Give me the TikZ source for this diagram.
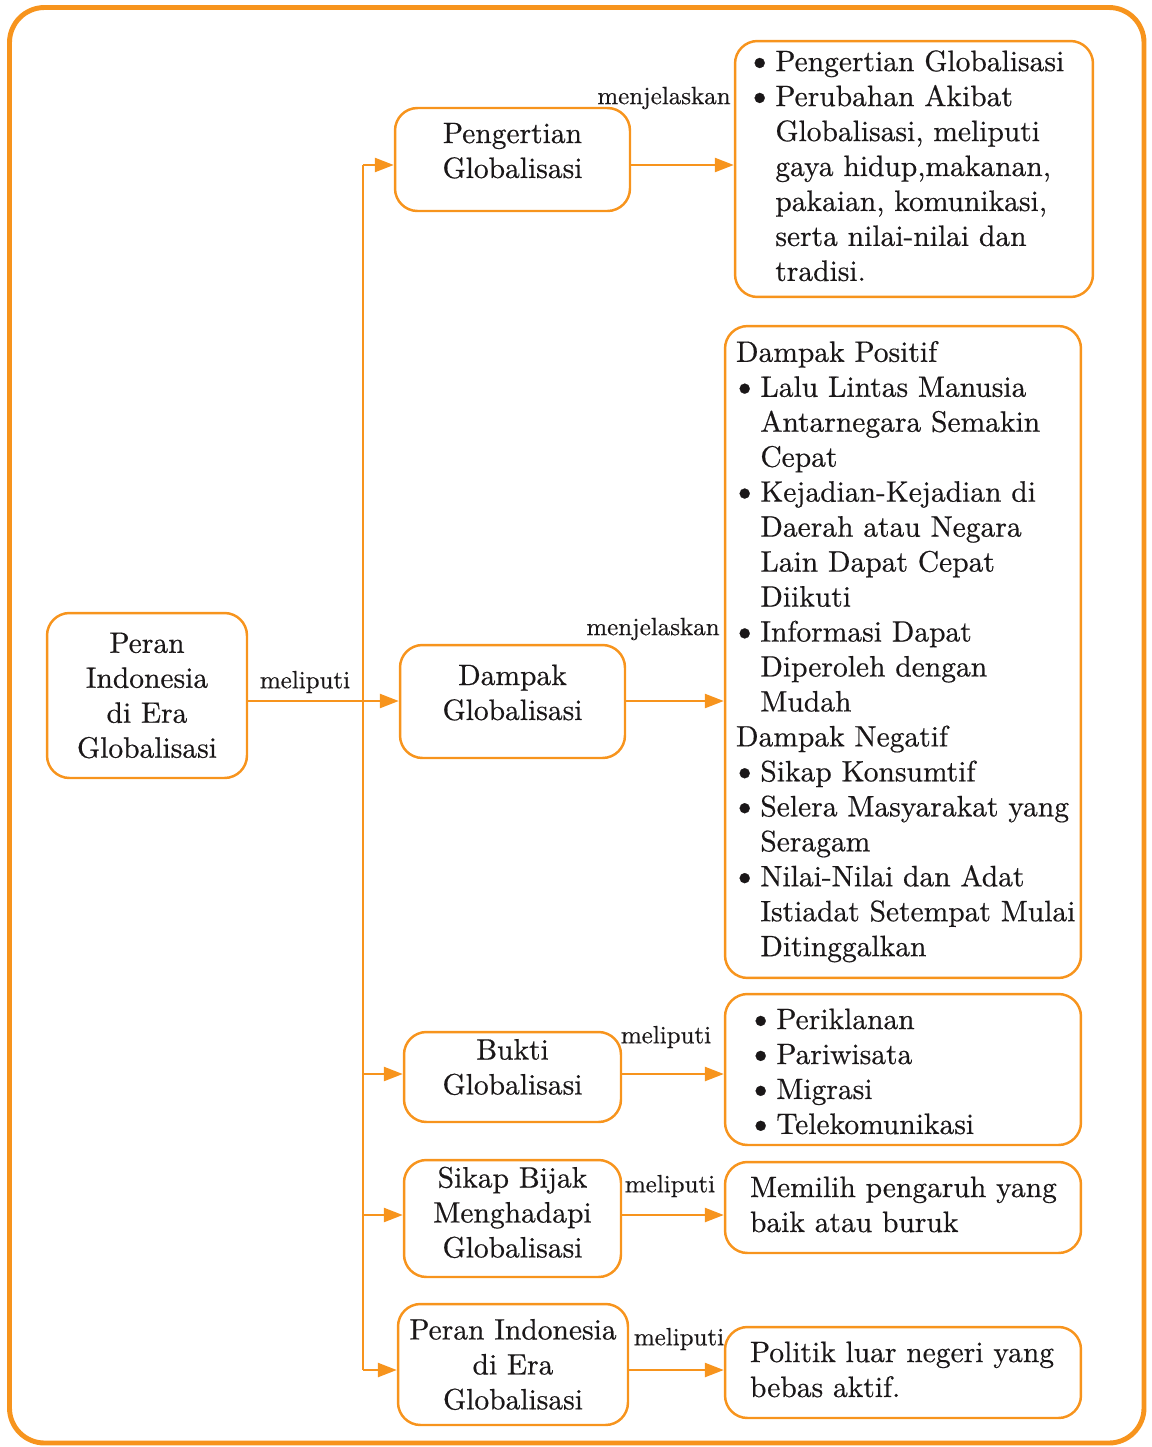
\documentclass[tikz,border=0pt]{standalone}
\usepackage{fontspec}
\setmainfont{lmroman10-regular.otf}[FakeBold=0.5]
\usepackage{tikz}
\usetikzlibrary{arrows.meta}
\definecolor{jingga}{HTML}{F7941D}
\definecolor{teks}{HTML}{1A1718}
\tikzset{
	kotak/.style={draw=jingga, line width=1.4pt, rounded corners=0.45cm, inner sep=0pt, align=center, text=teks, font=\fontsize{16.8}{19.9}\selectfont},
	isi/.style={kotak, align=left},
	panah/.style={draw=jingga, line width=1.4pt, -{Triangle[length=0.38cm,width=0.28cm]}},
	garis/.style={draw=jingga, line width=1.4pt},
	ket/.style={text=teks, font=\fontsize{14.2}{17}\selectfont, inner sep=0pt},
}
\newcommand{\bt}{\hspace{-0.1cm}{\fontsize{20}{19.9}\selectfont\textbullet}}
\newcommand{\naik}[2]{\raisebox{#1}[\height][\depth]{#2}}

\begin{document}
\begin{tikzpicture}[x=0.02cm, y=-0.02cm]
			%%%%% START %%%%%
			\useasboundingbox (0,0) rectangle (1152,1447);
			\draw[jingga, line width=2.8pt, rounded corners=0.7cm] (9.5,7.5) rectangle (1144,1443);
			
			% kotak tengah
			\node[kotak, minimum width=4cm, minimum height=3.3cm] (peran) at (147,695.5) {Peran\\Indonesia\\di Era\\Globalisasi};
			\node[kotak, minimum width=4.7cm, minimum height=2.06cm] (pengertian) at (512.5,159.5) {\naik{0.12cm}{\begin{tabular}{@{}c@{}}Pengertian\\Globalisasi\end{tabular}}};
			\node[kotak, minimum width=4.5cm, minimum height=2.26cm] (dampak) at (512.5,701.5) {\naik{0.12cm}{\begin{tabular}{@{}c@{}}Dampak\\Globalisasi\end{tabular}}};
			\node[kotak, minimum width=4.34cm, minimum height=1.8cm] (bukti) at (512.5,1077) {\naik{0.14cm}{\begin{tabular}{@{}c@{}}Bukti\\Globalisasi\end{tabular}}};
			\node[kotak, minimum width=4.34cm, minimum height=2.34cm] (sikap) at (512.5,1218.5) {\naik{0.06cm}{\begin{tabular}{@{}c@{}}Sikap Bijak\\Menghadapi\\Globalisasi\end{tabular}}};
			\node[kotak, minimum width=4.6cm, minimum height=2.42cm] (peranera) at (513,1364.5) {Peran Indonesia\\di Era\\Globalisasi};
			
			% kotak kanan
			\node[isi, inner xsep=0.32cm, text width=6.52cm, minimum height=5.12cm] (isi1) at (914,169) {\begin{tabular}{@{}l@{\hspace{0.04cm}}l@{}}
				\bt & Pengertian Globalisasi\\
				\bt & Perubahan Akibat\\
				& Globalisasi, meliputi\\
				& gaya hidup,makanan,\\
				& pakaian, komunikasi,\\
				& serta nilai-nilai dan\\
				& tradisi.
			\end{tabular}};
			\node[isi, inner xsep=0.22cm, text width=6.68cm, minimum height=13.04cm] (isi2) at (903,652) {\begin{tabular}{@{}l@{\hspace{0.04cm}}l@{}}
				\multicolumn{2}{@{}l@{}}{Dampak Positif}\\
				\bt & Lalu Lintas Manusia\\
				& Antarnegara Semakin\\
				& Cepat\\
				\bt & Kejadian-Kejadian di\\
				& Daerah atau Negara\\
				& Lain Dapat Cepat\\
				& Diikuti\\
				\bt & Informasi Dapat\\
				& Diperoleh dengan\\
				& Mudah\\
				\multicolumn{2}{@{}l@{}}{Dampak Negatif}\\
				\bt & Sikap Konsumtif\\
				\bt & Selera Masyarakat yang\\
				& Seragam\\
				\bt & Nilai-Nilai dan Adat\\
				& Istiadat Setempat Mulai\\
				& Ditinggalkan
			\end{tabular}};
			\node[isi, inner xsep=0.54cm, text width=6.04cm, minimum height=3.02cm] (isi3) at (903,1069.5) {\naik{-0.1cm}{\begin{tabular}{@{}l@{\hspace{0.04cm}}l@{}}
				\bt & Periklanan\\
				\bt & Pariwisata\\
				\bt & Migrasi\\
				\bt & Telekomunikasi
			\end{tabular}}};
			\node[isi, inner xsep=0.5cm, text width=6.12cm, minimum height=1.82cm] (isi4) at (903,1207.5) {\begin{tabular}{@{}l@{}}
				Memilih pengaruh yang\\
				baik atau buruk
			\end{tabular}};
			\node[isi, inner xsep=0.5cm, text width=6.12cm, minimum height=1.82cm] (isi5) at (903,1372.5) {\begin{tabular}{@{}l@{}}
				Politik luar negeri yang\\
				bebas aktif.
			\end{tabular}};
			
			% batang dan panah
			\coordinate (c1) at (363,165);
			\coordinate (c2) at (363,701);
			\coordinate (c3) at (363,1074);
			\coordinate (c4) at (363,1215);
			\coordinate (c5) at (363,1370);
			\draw[garis] (c1) -- (c5);
			\draw[panah] (c1) -- (c1 -| pengertian.west);
			\draw[panah] (c2 -| peran.east) -- (c2 -| dampak.west);
			\draw[panah] (c3) -- (c3 -| bukti.west);
			\draw[panah] (c4) -- (c4 -| sikap.west);
			\draw[panah] (c5) -- (c5 -| peranera.west);
			
			\draw[panah] (c1 -| pengertian.east) -- (c1 -| isi1.west);
			\draw[panah] (c2 -| dampak.east) -- (c2 -| isi2.west);
			\draw[panah] (c3 -| bukti.east) -- (c3 -| isi3.west);
			\draw[panah] (c4 -| sikap.east) -- (c4 -| isi4.west);
			\draw[panah] (c5 -| peranera.east) -- (c5 -| isi5.west);
			
			% keterangan
			\node[ket] (k0) at (305,682) {meliputi};
			\node[ket] (k1) at (664,98) {menjelaskan};
			\node[ket] (k2) at (653,629) {menjelaskan};
			\node[ket] (k3) at (666,1037) {meliputi};
			\node[ket] (k4) at (670,1186) {meliputi};
			\node[ket] (k5) at (679,1339) {meliputi};
			%%%%% END %%%%%
\end{tikzpicture}
\end{document}
